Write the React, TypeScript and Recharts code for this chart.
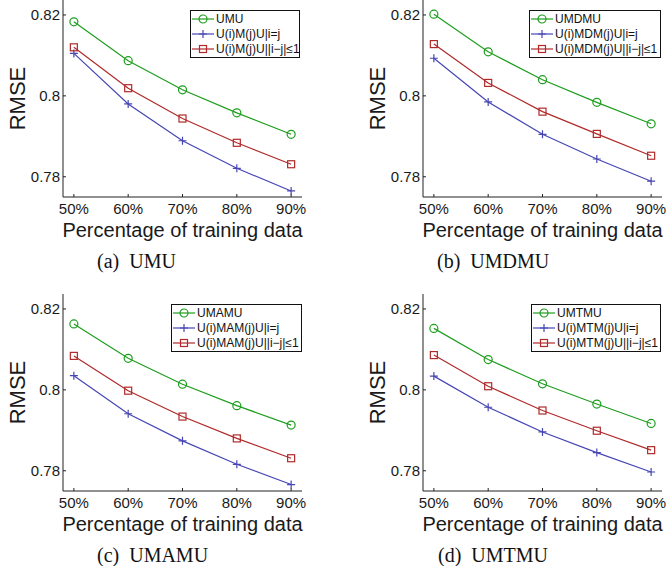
import { LineChart, Line, XAxis, YAxis, Legend, Label } from "recharts";

const percentages = [50, 60, 70, 80, 90];

// (a) UMU
const umuBase = [0.8183, 0.8087, 0.8015, 0.7958, 0.7905];
const umuSame = [0.8105, 0.798, 0.7889, 0.7821, 0.7765];
const umuNear = [0.812, 0.8019, 0.7944, 0.7884, 0.7831];

// (b) UMDMU
const umdmuBase = [0.8202, 0.8109, 0.804, 0.7984, 0.7931];
const umdmuSame = [0.8093, 0.7985, 0.7905, 0.7844, 0.7789];
const umdmuNear = [0.8128, 0.8032, 0.7961, 0.7906, 0.7852];

// (c) UMAMU
const umamuBase = [0.8163, 0.8078, 0.8014, 0.7961, 0.7913];
const umamuSame = [0.8035, 0.7941, 0.7874, 0.7816, 0.7766];
const umamuNear = [0.8084, 0.7998, 0.7934, 0.788, 0.7831];

// (d) UMTMU
const umtmuBase = [0.8152, 0.8075, 0.8015, 0.7965, 0.7917];
const umtmuSame = [0.8034, 0.7957, 0.7896, 0.7845, 0.7797];
const umtmuNear = [0.8086, 0.8009, 0.7949, 0.7899, 0.7851];

const yTicks = [0.78, 0.8, 0.82];

const GREEN = "#1e9e1e";
const BLUE = "#4646b4";
const RED = "#b02a2a";
const SANS = '"Liberation Sans", Arial, Helvetica, sans-serif';
const SERIF = '"Liberation Serif", "Times New Roman", serif';

type Shape = "circle" | "plus" | "square";

function Marker({ cx, cy, shape, color }: { cx: number; cy: number; shape: Shape; color: string }) {
  if (shape === "circle")
    return <circle cx={cx} cy={cy} r={4} fill="none" stroke={color} strokeWidth={1.2} />;
  if (shape === "plus")
    return (
      <path
        d={`M${cx - 4},${cy}H${cx + 4}M${cx},${cy - 4}V${cy + 4}`}
        stroke={color}
        strokeWidth={1.2}
        fill="none"
      />
    );
  return (
    <rect x={cx - 3.5} y={cy - 3.5} width={7} height={7} fill="none" stroke={color} strokeWidth={1.2} />
  );
}

interface PanelProps {
  left: number;
  top: number;
  base: number[];
  same: number[];
  near: number[];
  names: string[];
  legendLeft: number;
  legendWidth: number;
  caption: string;
  captionLeft: number;
}

function Panel(p: PanelProps) {
  const data = percentages.map((pct, i) => ({
    pct,
    base: p.base[i],
    same: p.same[i],
    near: p.near[i],
  }));
  const series = [
    { key: "base", name: p.names[0], color: GREEN, shape: "circle" as Shape },
    { key: "same", name: p.names[1], color: BLUE, shape: "plus" as Shape },
    { key: "near", name: p.names[2], color: RED, shape: "square" as Shape },
  ];

  return (
    <div style={{ position: "absolute", left: p.left, top: p.top, width: 307, height: 272 }}>
      <LineChart width={307} height={260} data={data} margin={{ top: 0, right: 5, bottom: 23, left: 0 }}>
        <XAxis
          dataKey="pct"
          type="number"
          domain={[48, 92]}
          ticks={percentages}
          allowDataOverflow
          tickFormatter={(v) => `${v}%`}
          interval={0}
          height={40}
          stroke="#222"
          tickSize={-3}
          tickMargin={9}
          tick={{ fontSize: 15, fill: "#1a1a1a", fontFamily: SANS }}
        >
          <Label
            value="Percentage of training data"
            position="insideBottom"
            offset={0}
            style={{ fontSize: 20, fill: "#1a1a1a", fontFamily: SANS }}
          />
        </XAxis>
        <YAxis
          type="number"
          domain={[0.775, 0.8237]}
          ticks={yTicks}
          allowDataOverflow
          width={63}
          stroke="#222"
          tickSize={-3}
          tickMargin={6}
          tick={{ fontSize: 15, fill: "#1a1a1a", fontFamily: SANS }}
        >
          <Label
            content={({ viewBox }: any) => {
              const cx = 17;
              const cy = viewBox.y + viewBox.height / 2;
              return (
                <text
                  x={cx}
                  y={cy}
                  transform={`rotate(-90 ${cx} ${cy})`}
                  textAnchor="middle"
                  dominantBaseline="central"
                  style={{ fontSize: 22, fill: "#1a1a1a", fontFamily: SANS }}
                >
                  RMSE
                </text>
              );
            }}
          />
        </YAxis>
        <Legend
          layout="vertical"
          align="center"
          verticalAlign="middle"
          wrapperStyle={{ left: p.legendLeft, top: 10, width: p.legendWidth }}
          content={() => (
            <div
              style={{
                width: p.legendWidth,
                height: 48,
                boxSizing: "border-box",
                border: "1px solid #111",
                background: "#fff",
                fontFamily: SANS,
                fontSize: 12,
                color: "#111",
              }}
            >
              {series.map((s) => (
                <div key={s.key} style={{ display: "flex", alignItems: "center", height: 15.3, whiteSpace: "nowrap" }}>
                  <svg width={22} height={12} style={{ marginLeft: 1, marginRight: 2, flexShrink: 0 }}>
                    <line x1={0} y1={6} x2={22} y2={6} stroke={s.color} strokeWidth={1.2} />
                    <Marker cx={11} cy={6} shape={s.shape} color={s.color} />
                  </svg>
                  <span>{s.name}</span>
                </div>
              ))}
            </div>
          )}
        />
        {series.map((s) => (
          <Line
            key={s.key}
            dataKey={s.key}
            name={s.name}
            stroke={s.color}
            strokeWidth={1.2}
            isAnimationActive={false}
            dot={(d: any) => <Marker key={`${s.key}-${d.index}`} cx={d.cx} cy={d.cy} shape={s.shape} color={s.color} />}
          />
        ))}
      </LineChart>
      <div
        style={{
          position: "absolute",
          left: p.captionLeft,
          top: 251,
          fontFamily: SERIF,
          fontSize: 20,
          lineHeight: "20px",
          whiteSpace: "pre",
          color: "#111",
        }}
      >
        {p.caption}
      </div>
    </div>
  );
}

export default function App() {
  return (
    <div style={{ position: "absolute", left: 0, top: 0, width: 667, height: 566, background: "#fff", overflow: "hidden" }}>
      <Panel
        left={0}
        top={0}
        base={umuBase}
        same={umuSame}
        near={umuNear}
        names={["UMU", "U(i)M(j)U|i=j", "U(i)M(j)U||i−j|≤1"]}
        legendLeft={190}
        legendWidth={110}
        caption="(a)  UMU"
        captionLeft={97}
      />
      <Panel
        left={360}
        top={0}
        base={umdmuBase}
        same={umdmuSame}
        near={umdmuNear}
        names={["UMDMU", "U(i)MDM(j)U|i=j", "U(i)MDM(j)U||i−j|≤1"]}
        legendLeft={169}
        legendWidth={132}
        caption="(b)  UMDMU"
        captionLeft={77}
      />
      <Panel
        left={0}
        top={294}
        base={umamuBase}
        same={umamuSame}
        near={umamuNear}
        names={["UMAMU", "U(i)MAM(j)U|i=j", "U(i)MAM(j)U||i−j|≤1"]}
        legendLeft={171}
        legendWidth={131}
        caption="(c)  UMAMU"
        captionLeft={97}
      />
      <Panel
        left={360}
        top={294}
        base={umtmuBase}
        same={umtmuSame}
        near={umtmuNear}
        names={["UMTMU", "U(i)MTM(j)U|i=j", "U(i)MTM(j)U||i−j|≤1"]}
        legendLeft={171}
        legendWidth={130}
        caption="(d)  UMTMU"
        captionLeft={78}
      />
    </div>
  );
}
